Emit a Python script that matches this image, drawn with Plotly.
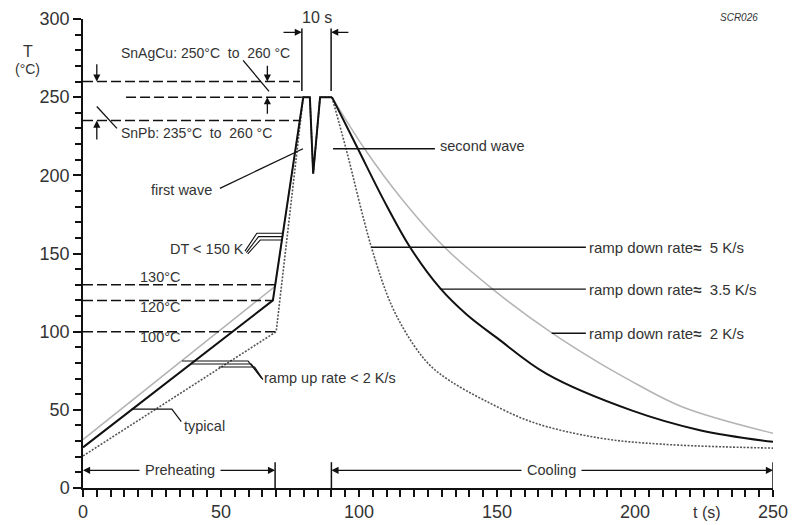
import plotly.graph_objects as go

# ---------------- data ----------------
# common wave part (first wave, dip, second wave)
wave_t = [79.8, 82.2, 83.4, 85.9, 90.2]
wave_T = [250, 250, 201, 250, 250]

# typical profile (solid black)
heat_t_typ = [0, 68.8]
heat_T_typ = [26, 120]
cool_t_typ = [90.2, 99.6, 109, 118.5, 129.3, 139, 150, 168, 199, 223.5, 250]
cool_T_typ = [250, 217, 184, 154, 128, 111, 96, 73, 49.5, 37, 29.5]

# upper profile (light grey, ramp down ~2 K/s)
heat_t_hi = [0, 69.6]
heat_T_hi = [31, 129]
cool_t_hi = [90.2, 102, 115, 131, 150, 170, 187, 197, 217, 250]
cool_T_hi = [250, 217, 186, 154, 125, 99, 80, 70, 52, 35]

# lower profile (dotted, ramp down ~5 K/s)
heat_t_lo = [0, 70]
heat_T_lo = [20.5, 100]
cool_t_lo = [90.2, 95.3, 104.5, 112, 120, 126, 133, 145, 163, 187, 210, 250]
cool_T_lo = [250, 217, 154, 116, 91, 78, 68.5, 56.5, 42, 32, 28, 25.5]

# reference temperature levels (dashed)
alloy_levels = [260, 250, 235]
preheat_levels = [130, 120, 100]
preheat_labels = ["130\u00b0C", "120\u00b0C", "100\u00b0C"]
ramp_down_levels = [154, 127.2, 99]
ramp_down_starts = [104.5, 129.3, 169.8]
ramp_down_labels = ["5 K/s", "3.5 K/s", "2 K/s"]

x_ticks = [0, 50, 100, 150, 200, 250]
y_ticks = [0, 50, 100, 150, 200, 250, 300]

FONT = "Liberation Sans, Arial, sans-serif"
TXT = "#333333"

fig = go.Figure()

def profile(heat_t, heat_T, cool_t, cool_T, color, width, dash):
    fig.add_trace(go.Scatter(x=heat_t + wave_t, y=heat_T + wave_T, mode="lines",
                             line=dict(color=color, width=width, dash=dash),
                             hoverinfo="skip", showlegend=False))
    fig.add_trace(go.Scatter(x=cool_t, y=cool_T, mode="lines",
                             line=dict(color=color, width=width, dash=dash,
                                       shape="spline", smoothing=1.0),
                             hoverinfo="skip", showlegend=False))

profile(heat_t_hi, heat_T_hi, cool_t_hi, cool_T_hi, "#b4b4b4", 1.5, "solid")
profile(heat_t_lo, heat_T_lo, cool_t_lo, cool_T_lo, "#555555", 1.6, "2px,1.5px")
profile(heat_t_typ, heat_T_typ, cool_t_typ, cool_T_typ, "#111111", 2, "solid")

shapes = []
def seg(x0, y0, x1, y1, dash="solid", w=1.3, color="#111111"):
    shapes.append(dict(type="line", xref="x", yref="y", x0=x0, y0=y0, x1=x1, y1=y1,
                       line=dict(color=color, width=w, dash=dash), layer="above"))

def poly(pts, w=1.2, color="#111111"):
    d = "M " + " L ".join(f"{px} {py}" for px, py in pts)
    shapes.append(dict(type="path", xref="x", yref="y", path=d,
                       line=dict(color=color, width=w), layer="above"))

DASH = "10px,4px"
# alloy dashed lines
seg(0, alloy_levels[0], 78.6, alloy_levels[0], DASH, 1.5)
seg(15.6, alloy_levels[1], 79.3, alloy_levels[1], DASH, 1.5)
seg(0, alloy_levels[2], 78.6, alloy_levels[2], DASH, 1.5)
# preheat dashed lines
seg(0, preheat_levels[0], 69.6, preheat_levels[0], DASH, 1.5)
seg(0, preheat_levels[1], 68.8, preheat_levels[1], DASH, 1.5)
seg(0, preheat_levels[2], 70, preheat_levels[2], DASH, 1.5)

# 10 s markers
seg(79.3, 254, 79.3, 294, w=1.5)
seg(89.9, 254, 89.9, 294, w=1.5)

# leader lines
seg(58, 273.5, 67.4, 253.7)      # SnAgCu leader
seg(5, 244, 12.3, 230)           # SnPb leader
seg(49.6, 191.7, 79.7, 217)      # first wave
seg(90.6, 217, 127.5, 217)       # second wave
for lvl, st in zip(ramp_down_levels, ramp_down_starts):
    seg(st, lvl, 182.2, lvl)
# typical
poly([(17.6, 50.5), (32.2, 50.5), (35.6, 42.5)])
# DT < 150 K triple leader
for i in range(3):
    poly([(58.7 + 0.5 * i, 151.5 - 0.9 * i), (63 + 0.6 * i, 163 - 2.2 * i), (72.4, 163 - 2.2 * i)], w=1.1)
# ramp up triple leader
ru_starts = [(35.9, 81.2), (39.3, 79.3), (49.2, 77.4)]
for i, (sx, sy) in enumerate(ru_starts):
    poly([(sx, sy), (59.8 + 1.2 * i, sy), (64.6 + 0.3 * i, 70.5 - 0.6 * i)], w=1.1)

# phase markers
seg(69.6, 0, 69.6, 16.5, w=1.5)
seg(90, 0, 90, 16.5, w=1.5)
seg(250, 0, 250, 16.5, w=1.5)

ann = []
def arrow(x, y, ax, ay, w=1.3):
    ann.append(dict(x=x, y=y, ax=ax, ay=ay, xref="x", yref="y", axref="x", ayref="y",
                    text="", showarrow=True, arrowhead=2, arrowsize=1.1, arrowwidth=w,
                    arrowcolor="#111111", standoff=0))

def label(x, y, text, anchor="left", size=14.5, bg=None, italic=False, xref="x", yref="y"):
    d = dict(x=x, y=y, xref=xref, yref=yref, text=text, showarrow=False,
             xanchor=anchor, yanchor="middle",
             font=dict(family=FONT, size=size, color=TXT))
    if bg:
        d["bgcolor"] = bg
    if italic:
        d["text"] = "<i>" + text + "</i>"
    ann.append(d)

# alloy arrows
arrow(5, 260, 5, 272)
arrow(5, 235, 5, 222)
arrow(66.8, 260, 66.8, 271)
arrow(66.8, 250, 66.8, 238.5)
# 10 s arrows
arrow(79.3, 291.5, 72.1, 291.5)
arrow(89.9, 291.5, 96.7, 291.5)
# preheating / cooling arrows
arrow(0, 11.3, 35, 11.3)
arrow(69.6, 11.3, 35, 11.3)
arrow(90, 11.3, 170, 11.3)
arrow(250, 11.3, 170, 11.3)

sp = "\u00a0"
label(13, 278, f"SnAgCu: 250\u00b0C{sp}{sp}to{sp}{sp}260{sp}\u00b0C", size=14)
label(13, 227, f"SnPb: 235\u00b0C{sp}{sp}to{sp}{sp}260{sp}\u00b0C", size=14)
label(47.5, 190.4, "first wave", anchor="right")
label(128.6, 218.5, "second wave")
label(59.2, 153, "DT < 150 K", anchor="right")
label(64.9, 70.3, "ramp up rate < 2 K/s")
label(35.9, 39.5, "typical")
for lvl, txt, dy in zip(preheat_levels, preheat_labels, [5, -4.5, -3.7]):
    label(20, lvl + dy, txt)
for lvl, txt in zip(ramp_down_levels, ramp_down_labels):
    label(182.6, lvl, f"ramp down rate<b>\u2248</b>{sp}{sp}{txt}", size=15)
label(35, 11.3, f"{sp}Preheating{sp}", anchor="center", bg="white")
label(169.8, 11.3, f"{sp}Cooling{sp}", anchor="center", bg="white")
# texts above the plotting range use paper y
label(84.7, 1.003, "10 s", anchor="center", size=16, yref="paper")
label(237.5, 1.004, "SCR026", anchor="center", size=10, italic=True, yref="paper")
label(226, -0.052, "t (s)", anchor="center", size=16, yref="paper")
label(-0.08, 0.93, "T", anchor="center", size=16, xref="paper", yref="paper")
label(-0.08, 0.893, "(\u00b0C)", anchor="center", size=14, xref="paper", yref="paper")

axis_common = dict(showline=True, linecolor="#111111", linewidth=1.5, ticks="outside",
                   tickcolor="#111111", tickwidth=1.5, showgrid=False, zeroline=False,
                   tickfont=dict(family=FONT, size=18, color=TXT), fixedrange=True,
                   automargin=False)

fig.update_layout(
    width=792, height=525,
    margin=dict(l=83, r=19, t=19, b=37, autoexpand=False),
    paper_bgcolor="white", plot_bgcolor="white",
    xaxis=dict(range=[0, 250], tickvals=x_ticks, ticklen=7,
               minor=dict(dtick=5, ticks="outside", ticklen=7, tickwidth=1.5, tickcolor="#111111"),
               **axis_common),
    yaxis=dict(range=[0, 300], tickvals=y_ticks, ticklen=8,
               minor=dict(dtick=10, ticks="outside", ticklen=6, tickwidth=1.5, tickcolor="#111111"),
               **axis_common),
    shapes=shapes,
    annotations=ann,
    showlegend=False,
)

fig.write_html("out.html", config={"displayModeBar": False},
               post_script="document.body.style.margin='0';document.body.style.overflow='hidden';")
